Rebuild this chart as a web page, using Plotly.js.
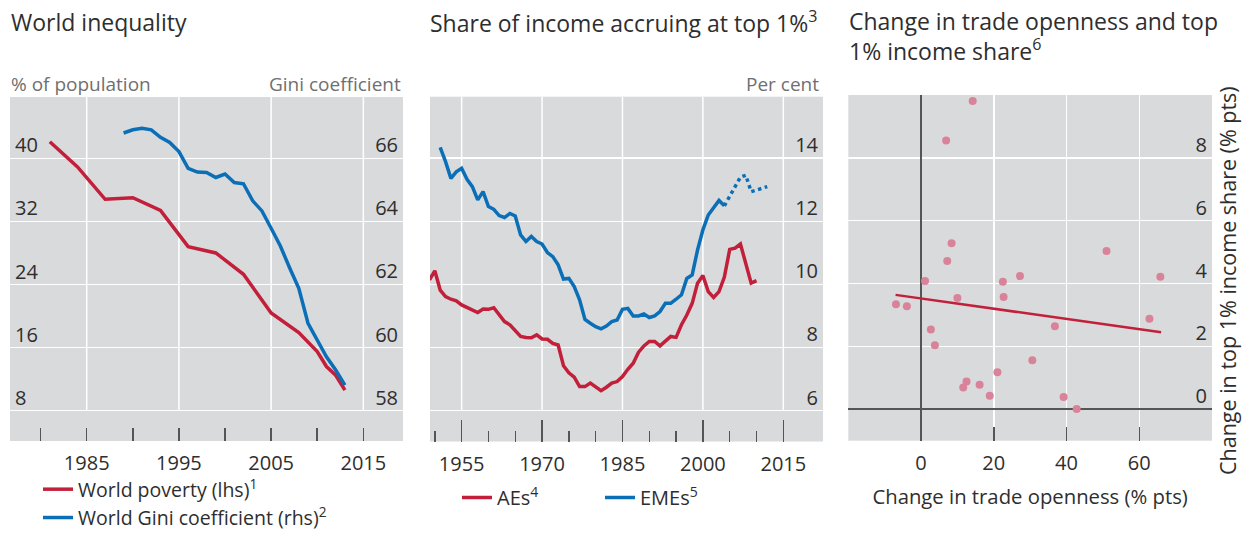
<!DOCTYPE html>
<html>
<head>
<meta charset="utf-8">
<script src="https://cdn.plot.ly/plotly-3.0.1.min.js"></script>
<style>html,body{margin:0;padding:0;background:#fff;}#chart{width:1249px;height:535px;}</style>
</head>
<body>
<div id="chart"></div>
<script>
// ---------- Data ----------
// Panel 1: World inequality
const povertyYears = [1981, 1984, 1987, 1990, 1993, 1996, 1999, 2002, 2005, 2008, 2010, 2011, 2012, 2013];
const povertyValues = [42.1, 38.9, 34.8, 35.0, 33.4, 28.8, 28.0, 25.3, 20.4, 17.9, 15.5, 13.6, 12.5, 10.6];
const giniYears = [1989, 1990, 1991, 1992, 1993, 1994, 1995, 1996, 1997, 1998, 1999, 2000, 2001, 2002, 2003, 2004, 2005, 2006, 2007, 2008, 2009, 2010, 2011, 2012, 2013];
const giniValues = [66.8, 66.9, 66.95, 66.9, 66.66, 66.5, 66.21, 65.68, 65.56, 65.55, 65.39, 65.5, 65.23, 65.19, 64.65, 64.33, 63.78, 63.22, 62.53, 61.88, 60.77, 60.24, 59.71, 59.29, 58.81];

// Panel 2: Share of income accruing at top 1%
const aeYears = [1949, 1950, 1951, 1952, 1953, 1954, 1955, 1956, 1957, 1958, 1959, 1960, 1961, 1962, 1963, 1964, 1965, 1966, 1967, 1968, 1969, 1970, 1971, 1972, 1973, 1974, 1975, 1976, 1977, 1978, 1979, 1980, 1981, 1982, 1983, 1984, 1985, 1986, 1987, 1988, 1989, 1990, 1991, 1992, 1993, 1994, 1995, 1996, 1997, 1998, 1999, 2000, 2001, 2002, 2003, 2004, 2005, 2006, 2007, 2008, 2009, 2010];
const aeValues = [10.14, 10.43, 9.82, 9.61, 9.53, 9.48, 9.35, 9.28, 9.19, 9.11, 9.22, 9.21, 9.26, 9.03, 8.82, 8.72, 8.54, 8.35, 8.32, 8.31, 8.40, 8.27, 8.26, 8.13, 8.08, 7.42, 7.20, 7.06, 6.76, 6.76, 6.87, 6.76, 6.63, 6.74, 6.87, 6.92, 7.08, 7.31, 7.50, 7.85, 8.05, 8.19, 8.19, 8.05, 8.19, 8.35, 8.32, 8.72, 9.03, 9.40, 10.04, 10.28, 9.77, 9.59, 9.77, 10.23, 11.11, 11.15, 11.28, 10.67, 10.04, 10.12];
const emeYears = [1951, 1952, 1953, 1954, 1955, 1956, 1957, 1958, 1959, 1960, 1961, 1962, 1963, 1964, 1965, 1966, 1967, 1968, 1969, 1970, 1971, 1972, 1973, 1974, 1975, 1976, 1977, 1978, 1979, 1980, 1981, 1982, 1983, 1984, 1985, 1986, 1987, 1988, 1989, 1990, 1991, 1992, 1993, 1994, 1995, 1996, 1997, 1998, 1999, 2000, 2001, 2002, 2003, 2004];
const emeValues = [14.34, 13.89, 13.36, 13.57, 13.68, 13.33, 13.10, 12.68, 12.94, 12.47, 12.38, 12.18, 12.12, 12.25, 12.17, 11.57, 11.36, 11.52, 11.36, 11.28, 11.01, 10.88, 10.62, 10.17, 10.19, 9.93, 9.51, 8.89, 8.77, 8.66, 8.59, 8.68, 8.82, 8.87, 9.21, 9.24, 9.00, 9.00, 9.06, 8.95, 9.00, 9.14, 9.40, 9.40, 9.53, 9.67, 10.19, 10.30, 11.09, 11.73, 12.20, 12.41, 12.66, 12.49];
const emeEstYears = [2004, 2005, 2006, 2007, 2008, 2009, 2010, 2011, 2012];
const emeEstValues = [12.49, 12.78, 13.08, 13.40, 13.46, 12.94, 12.99, 13.04, 13.10];

// Panel 3: Change in trade openness vs change in top 1% income share
const tradeChange = [14.2, 6.9, 8.4, 7.2, 1.1, 10.0, -6.9, -3.9, 2.7, 3.8, 22.5, 27.2, 22.7, 51.0, 65.8, 62.8, 36.8, 30.6, 21.0, 12.5, 11.6, 16.1, 18.9, 39.2, 42.8];
const top1Change = [9.81, 8.55, 5.28, 4.72, 4.08, 3.54, 3.34, 3.28, 2.54, 2.04, 4.06, 4.24, 3.57, 5.04, 4.22, 2.88, 2.64, 1.56, 1.18, 0.88, 0.69, 0.78, 0.43, 0.39, 0.01];
const trendX = [-7, 66];
const trendY = [3.64, 2.45];

// Tick labels / gridline positions
const p1YearTicks = [1985, 1995, 2005, 2015];
const p1LeftTicks = [8, 16, 24, 32, 40];
const p1RightTicks = [58, 60, 62, 64, 66];
const p2YearTicks = [1955, 1970, 1985, 2000, 2015];
const p2Ticks = [6, 8, 10, 12, 14];
const p3XTicks = [0, 20, 40, 60];
const p3XEdgeTicks = [-20, 80];
const p3YTicks = [0, 2, 4, 6, 8];

// ---------- Styling ----------
const W = 1249, H = 535;
const FONT = 'Open Sans, Noto Sans, sans-serif';
const RED = '#c21f3a';
const BLUE = '#0b6fb8';
const PINK = '#d9839b';
const BG = '#d9dadc';
const TXT = '#2e2e2e';
const GREY = '#6f6f6f';
const TICKC = '#555555';
const FS = 20;
const SHIFT = -13;
const px = v => v / W;
const py = v => 1 - v / H;

const traces = [
  {x: povertyYears, y: povertyValues, xaxis: 'x', yaxis: 'y', type: 'scatter', mode: 'lines',
   name: 'World poverty (lhs)<sup>1</sup>', legend: 'legend', line: {color: RED, width: 3.5}},
  {x: giniYears, y: giniValues, xaxis: 'x', yaxis: 'y2', type: 'scatter', mode: 'lines',
   name: 'World Gini coefficient (rhs)<sup>2</sup>', legend: 'legend', line: {color: BLUE, width: 3.5}},
  {x: aeYears, y: aeValues, xaxis: 'x2', yaxis: 'y3', type: 'scatter', mode: 'lines',
   name: 'AEs<sup>4</sup>', legend: 'legend2', line: {color: RED, width: 3.5}},
  {x: emeYears, y: emeValues, xaxis: 'x2', yaxis: 'y3', type: 'scatter', mode: 'lines',
   name: 'EMEs<sup>5</sup>', legend: 'legend2', line: {color: BLUE, width: 3.5}},
  {x: emeEstYears, y: emeEstValues, xaxis: 'x2', yaxis: 'y3', type: 'scatter', mode: 'lines',
   showlegend: false, line: {color: BLUE, width: 3.5, dash: 'dot'}},
  {x: tradeChange, y: top1Change, xaxis: 'x3', yaxis: 'y4', type: 'scatter', mode: 'markers',
   showlegend: false, marker: {color: PINK, size: 8}},
  {x: trendX, y: trendY, xaxis: 'x3', yaxis: 'y4', type: 'scatter', mode: 'lines',
   showlegend: false, line: {color: RED, width: 2.5}}
];

const tickFont = {family: FONT, size: FS, color: TXT};
const shapes = [];
p1YearTicks.forEach(v => shapes.push({type: 'line', xref: 'x', yref: 'y', x0: v, x1: v, y0: p1LeftTicks[0], y1: 47.77,
  line: {color: '#ffffff', width: 1.5}, layer: 'below'}));
p2YearTicks.forEach(v => shapes.push({type: 'line', xref: 'x2', yref: 'y3', x0: v, x1: v, y0: p2Ticks[0], y1: 15.95,
  line: {color: '#ffffff', width: 1.5}, layer: 'below'}));

const layout = {
  width: W, height: H,
  margin: {l: 0, r: 0, t: 0, b: 0, pad: 0, autoexpand: false},
  paper_bgcolor: '#ffffff', plot_bgcolor: BG,
  font: {family: FONT, size: FS, color: TXT},
  showlegend: true,
  hovermode: false,
  shapes: shapes,
  xaxis: {domain: [px(10), px(403)], anchor: 'y', range: [1976.68, 2019.3], automargin: false,
    tickvals: p1YearTicks, ticks: 'inside', ticklen: 13, tickwidth: 1.5, tickcolor: TICKC,
    minor: {dtick: 5, tick0: 1985, ticks: 'inside', ticklen: 13, tickwidth: 1.5, tickcolor: TICKC, showgrid: false},
    showgrid: false, zeroline: false, showline: false, tickfont: tickFont, ticklabelstandoff: 8},
  yaxis: {domain: [py(441), py(97)], anchor: 'x', range: [4.16, 47.77], side: 'left', automargin: false,
    tickvals: p1LeftTicks, ticks: '', ticklabelposition: 'inside', ticklabelshift: SHIFT, ticklabelstandoff: 2,
    showgrid: true, gridcolor: '#ffffff', gridwidth: 1.5, zeroline: false, showline: false, tickfont: tickFont},
  yaxis2: {overlaying: 'y', anchor: 'x', side: 'right', range: [57.04, 67.94], automargin: false,
    tickvals: p1RightTicks, ticks: '', ticklabelposition: 'inside', ticklabelshift: SHIFT, ticklabelstandoff: 2,
    showgrid: false, zeroline: false, showline: false, tickfont: tickFont},
  xaxis2: {domain: [px(430), px(823)], anchor: 'y3', range: [1949.1, 2022.4], automargin: false,
    tickvals: p2YearTicks, ticks: 'inside', ticklen: 22, tickwidth: 1.5, tickcolor: TICKC,
    minor: {dtick: 5, tick0: 1955, ticks: 'inside', ticklen: 11, tickwidth: 1.5, tickcolor: TICKC, showgrid: false},
    showgrid: false, zeroline: false, showline: false, tickfont: tickFont, ticklabelstandoff: 8},
  yaxis3: {domain: [py(441.5), py(96.7)], anchor: 'x2', range: [5.02, 15.95], side: 'right', automargin: false,
    tickvals: p2Ticks, ticks: '', ticklabelposition: 'inside', ticklabelshift: SHIFT, ticklabelstandoff: 2,
    showgrid: true, gridcolor: '#ffffff', gridwidth: 1.5, zeroline: false, showline: false, tickfont: tickFont},
  xaxis3: {domain: [px(848.3), px(1212)], anchor: 'y4', range: [-20, 80], automargin: false,
    tickvals: p3XTicks, ticks: 'inside', ticklen: 14, tickwidth: 1.5, tickcolor: TICKC,
    minor: {tickvals: p3XEdgeTicks, ticks: 'inside', ticklen: 14, tickwidth: 1.5, tickcolor: TICKC, showgrid: false},
    showgrid: true, gridcolor: '#ffffff', gridwidth: 1.5,
    zeroline: true, zerolinecolor: '#555555', zerolinewidth: 2, showline: false, tickfont: tickFont, ticklabelstandoff: 8,
    title: {text: 'Change in trade openness (% pts)', font: {family: FONT, size: 20.3, color: TXT}, standoff: 15}},
  yaxis4: {domain: [py(440.7), py(95)], anchor: 'x3', range: [-1, 10], side: 'right', automargin: false,
    tickvals: p3YTicks, ticks: '', ticklabelposition: 'inside', ticklabelshift: SHIFT, ticklabelstandoff: 2,
    showgrid: true, gridcolor: '#ffffff', gridwidth: 1.5,
    zeroline: true, zerolinecolor: '#555555', zerolinewidth: 2, showline: false, tickfont: tickFont},
  legend: {x: px(38), xanchor: 'left', y: py(470), yanchor: 'top', orientation: 'v',
    bgcolor: 'rgba(0,0,0,0)', font: {family: FONT, size: 19.5, color: TXT}, tracegroupgap: 0, itemwidth: 30},
  legend2: {x: px(457), xanchor: 'left', y: py(478), yanchor: 'top', orientation: 'h',
    bgcolor: 'rgba(0,0,0,0)', font: {family: FONT, size: FS, color: TXT}, entrywidth: 98, itemwidth: 30},
  annotations: [
    {text: 'World inequality', xref: 'paper', yref: 'paper', x: px(9), y: py(22), xanchor: 'left', yanchor: 'middle',
     showarrow: false, font: {family: FONT, size: 23, color: TXT}},
    {text: 'Share of income accruing at top 1%<sup>3</sup>', xref: 'paper', yref: 'paper', x: px(428), y: py(22), xanchor: 'left', yanchor: 'middle',
     showarrow: false, font: {family: FONT, size: 23, color: TXT}},
    {text: 'Change in trade openness and top<br>1% income share<sup>6</sup>', xref: 'paper', yref: 'paper', x: px(847), y: py(36), xanchor: 'left', yanchor: 'middle',
     align: 'left', showarrow: false, font: {family: FONT, size: 23, color: TXT}},
    {text: '% of population', xref: 'paper', yref: 'paper', x: px(9), y: py(84), xanchor: 'left', yanchor: 'middle',
     showarrow: false, font: {family: FONT, size: 19, color: GREY}},
    {text: 'Gini coefficient', xref: 'paper', yref: 'paper', x: px(403), y: py(84), xanchor: 'right', yanchor: 'middle',
     showarrow: false, font: {family: FONT, size: 19, color: GREY}},
    {text: 'Per cent', xref: 'paper', yref: 'paper', x: px(821), y: py(84), xanchor: 'right', yanchor: 'middle',
     showarrow: false, font: {family: FONT, size: 19, color: GREY}},
    {text: 'Change in top 1% income share (% pts)', xref: 'paper', yref: 'paper', x: px(1227), y: py(281), xanchor: 'center', yanchor: 'middle',
     textangle: -90, showarrow: false, font: {family: FONT, size: 21.5, color: TXT}}
  ]
};

Plotly.newPlot('chart', traces, layout, {displayModeBar: false, staticPlot: true});
</script>
</body>
</html>
